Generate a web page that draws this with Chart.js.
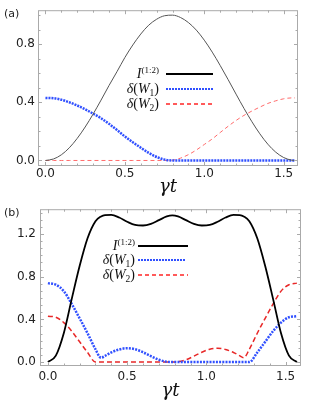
<!DOCTYPE html>
<html>
<head>
<meta charset="utf-8">
<script src="https://cdn.jsdelivr.net/npm/chart.js@4.4.0/dist/chart.umd.min.js"></script>
<style>
  body { margin: 0; background: #fff; width: 313px; height: 406px; position: relative; overflow: hidden; font-family: "Liberation Serif", serif; }
  canvas { position: absolute; left: 0; }
  #ca { top: 0; }
  #cb { top: 198px; }
  .tag { position: absolute; left: 4px; font: 11px "DejaVu Sans", sans-serif; color: #222; }
  .lab { position: absolute; text-align: right; font-size: 14px; line-height: 14px; color: #111; white-space: nowrap; }
  .lab i { font-style: italic; }
  .lab sup { font-size: 9px; vertical-align: 5px; line-height: 0; }
  .lab sub { font-size: 9.5px; vertical-align: -3px; line-height: 0; }
  .smp { position: absolute; height: 2px; }
  .s-black { background: #000; }
  .s-blue { background: repeating-linear-gradient(90deg, #3050ff 0 2px, transparent 2px 3px); }
  .s-red { background: repeating-linear-gradient(90deg, #ff5a5a 0 4px, transparent 4px 7px); }
</style>
</head>
<body>
<canvas id="ca" width="313" height="198"></canvas>
<canvas id="cb" width="313" height="208"></canvas>

<div class="tag" style="top:7px">(a)</div>
<div class="tag" style="top:206px">(b)</div>

<div class="lab" style="right:154px; top:67px"><i>I</i><sup>(1:2)</sup></div>
<div class="lab" style="right:154px; top:82px"><i>δ</i>(<i>W</i><sub>1</sub>)</div>
<div class="lab" style="right:154px; top:97px"><i>δ</i>(<i>W</i><sub>2</sub>)</div>
<div class="smp s-black" style="left:166px; width:47px; top:73px"></div>
<div class="smp s-blue" style="left:166px; width:47px; top:88px"></div>
<div class="smp s-red" style="left:166px; width:47px; top:103px"></div>

<div class="lab" style="right:178px; top:239px"><i>I</i><sup>(1:2)</sup></div>
<div class="lab" style="right:178px; top:253px"><i>δ</i>(<i>W</i><sub>1</sub>)</div>
<div class="lab" style="right:178px; top:268px"><i>δ</i>(<i>W</i><sub>2</sub>)</div>
<div class="smp s-black" style="left:138px; width:50px; top:245px"></div>
<div class="smp s-blue" style="left:138px; width:48px; top:259px"></div>
<div class="smp s-red" style="left:138px; width:50px; top:274px"></div>

<script>
// panel (a)
const tA = [0, 0.05, 0.1, 0.15, 0.2, 0.25, 0.3, 0.35, 0.4, 0.45, 0.5, 0.55, 0.6, 0.65, 0.7, 0.75,
  0.8, 0.85, 0.9, 0.95, 1.0, 1.05, 1.1, 1.15, 1.2, 1.25, 1.3, 1.35, 1.4, 1.45, 1.5, 1.55, 1.571];
const iA = [0, 0.01, 0.039, 0.087, 0.152, 0.23, 0.319, 0.415, 0.515, 0.61, 0.708, 0.794, 0.869, 0.93, 0.971, 0.995,
  0.999, 0.983, 0.948, 0.896, 0.827, 0.745, 0.653, 0.556, 0.456, 0.358, 0.266, 0.183, 0.112, 0.057, 0.02, 0.002, 0];
const w1A = [0.43, 0.428, 0.418, 0.4, 0.378, 0.352, 0.322, 0.29, 0.252, 0.21, 0.165, 0.125, 0.088, 0.052, 0.024, 0.006,
  0, 0, 0, 0, 0, 0, 0, 0, 0, 0, 0, 0, 0, 0, 0, 0, 0];
const w2A = [0, 0, 0, 0, 0, 0, 0, 0, 0, 0, 0, 0, 0, 0, 0, 0,
  0.002, 0.016, 0.04, 0.072, 0.11, 0.148, 0.192, 0.235, 0.275, 0.31, 0.34, 0.367, 0.392, 0.41, 0.424, 0.43, 0.43];

// panel (b)
const tB = [0, 0.05, 0.1, 0.15, 0.2, 0.25, 0.3, 0.335, 0.36, 0.4, 0.45, 0.5, 0.55, 0.6, 0.65, 0.7, 0.75, 0.785,
  0.821, 0.871, 0.921, 0.971, 1.021, 1.071, 1.121, 1.171, 1.211, 1.236, 1.271, 1.321, 1.371, 1.421, 1.471, 1.521, 1.571];
const iB = [0, 0.06, 0.27, 0.59, 0.9, 1.16, 1.32, 1.365, 1.378, 1.38, 1.355, 1.315, 1.285, 1.28, 1.295, 1.33, 1.365, 1.375,
  1.365, 1.33, 1.295, 1.28, 1.285, 1.315, 1.355, 1.38, 1.378, 1.365, 1.32, 1.16, 0.9, 0.59, 0.27, 0.06, 0];
const w1B = [0.74, 0.725, 0.665, 0.545, 0.41, 0.27, 0.12, 0.04, 0.058, 0.09, 0.118, 0.13, 0.12, 0.092, 0.055, 0.022, 0.003, 0,
  0, 0, 0, 0, 0, 0, 0, 0, 0, 0, 0, 0.09, 0.19, 0.29, 0.37, 0.42, 0.43];
const w2B = [0.43, 0.42, 0.37, 0.29, 0.19, 0.09, 0, 0, 0, 0, 0, 0, 0, 0, 0, 0, 0, 0,
  0.003, 0.022, 0.055, 0.092, 0.12, 0.13, 0.118, 0.09, 0.058, 0.04, 0.12, 0.27, 0.41, 0.545, 0.665, 0.725, 0.74];

const xTicks = [0, 0.5, 1.0, 1.5];
const yTicksA = [0, 0.4, 0.8];
const yTicksB = [0, 0.4, 0.8, 1.2];

const tickFont = { family: 'DejaVu Sans', size: 12 };
const titleFont = { family: '"DejaVu Serif"', style: 'italic', size: 18 };

// Mathematica-like frame with inward ticks on all four sides
const frameTicks = {
  id: 'frameTicks',
  afterDatasetsDraw(chart, args, o) {
    const { ctx, chartArea: a, scales: { x, y } } = chart;
    ctx.save();
    ctx.strokeStyle = '#aaa';
    ctx.lineWidth = 1;
    ctx.strokeRect(a.left + 0.5, a.top + 0.5, a.right - a.left - 1, a.bottom - a.top - 1);
    ctx.beginPath();
    const isMajor = (v, list) => list.some(m => Math.abs(m - v) < 1e-6);
    for (let k = 0; k * o.xStep <= x.max; k++) {
      const v = k * o.xStep;
      const px = Math.round(x.getPixelForValue(v)) + 0.5;
      const L = isMajor(v, o.xMajor) ? 4 : 2.5;
      ctx.moveTo(px, a.bottom); ctx.lineTo(px, a.bottom - L);
      ctx.moveTo(px, a.top); ctx.lineTo(px, a.top + L);
    }
    for (let k = 0; k * o.yStep <= y.max; k++) {
      const v = k * o.yStep;
      const py = Math.round(y.getPixelForValue(v)) + 0.5;
      const L = isMajor(v, o.yMajor) ? 4 : 2.5;
      ctx.moveTo(a.left, py); ctx.lineTo(a.left + L, py);
      ctx.moveTo(a.right, py); ctx.lineTo(a.right - L, py);
    }
    ctx.stroke();
    ctx.restore();
  }
};

function pts(t, v) { return t.map((x, i) => ({ x: x, y: v[i] })); }

function makeChart(id, p) {
  return new Chart(document.getElementById(id), {
    type: 'line',
    data: { datasets: p.sets },
    options: {
      responsive: false, animation: false, devicePixelRatio: 1,
      layout: { padding: p.pad },
      elements: { point: { radius: 0 }, line: { cubicInterpolationMode: 'monotone', fill: false } },
      plugins: {
        legend: { display: false }, tooltip: { enabled: false },
        frameTicks: { xStep: 0.1, yStep: p.yStep, xMajor: xTicks, yMajor: p.yTicks }
      },
      scales: {
        x: {
          type: 'linear', min: p.xMin, max: p.xMax,
          afterFit(s) { s.height = p.xH; },
          afterBuildTicks(s) { s.ticks = xTicks.map(v => ({ value: v })); },
          grid: { display: false, drawTicks: false }, border: { display: false },
          ticks: { callback: v => v.toFixed(1), padding: p.xPad, font: tickFont, color: '#222', maxRotation: 0, autoSkip: false },
          title: { display: true, text: 'γt', font: titleFont, color: '#111', padding: { top: 0, bottom: p.tPad } }
        },
        y: {
          type: 'linear', min: p.yMin, max: p.yMax,
          afterFit(s) { s.width = p.yW; },
          afterBuildTicks(s) { s.ticks = p.yTicks.map(v => ({ value: v })); },
          grid: { display: false, drawTicks: false }, border: { display: false },
          ticks: { callback: v => v.toFixed(1), padding: p.yPad, font: tickFont, color: '#222', autoSkip: false }
        }
      }
    },
    plugins: [frameTicks]
  });
}

makeChart('ca', {
  pad: { top: 5, right: 15, left: 0, bottom: 0 },
  xMin: -0.047, xMax: 1.59, yMin: -0.038, yMax: 1.033,
  xH: 32, yW: 38, xPad: 1, yPad: 3, tPad: 0, yStep: 0.1, yTicks: yTicksA,
  sets: [
    { data: pts(tA, iA), borderColor: '#555', borderWidth: 1 },
    { data: pts(tA, w1A), borderColor: '#3050ff', borderWidth: 2.5, borderDash: [2, 1] },
    { data: pts(tA, w2A), borderColor: '#ff6b6b', borderWidth: 1, borderDash: [4, 3] }
  ]
});

makeChart('cb', {
  pad: { top: 8.5, right: 12, left: 0, bottom: 0 },
  xMin: -0.05, xMax: 1.597, yMin: -0.037, yMax: 1.433,
  xH: 40, yW: 40, xPad: 4, yPad: 4, tPad: 4, yStep: 0.4 / 6, yTicks: yTicksB,
  sets: [
    { data: pts(tB, iB), borderColor: '#000', borderWidth: 1.8 },
    { data: pts(tB, w1B), borderColor: '#3050ff', borderWidth: 2.5, borderDash: [2, 1.2] },
    { data: pts(tB, w2B), borderColor: '#e82828', borderWidth: 1.5, borderDash: [5, 3] }
  ]
});
</script>
</body>
</html>
